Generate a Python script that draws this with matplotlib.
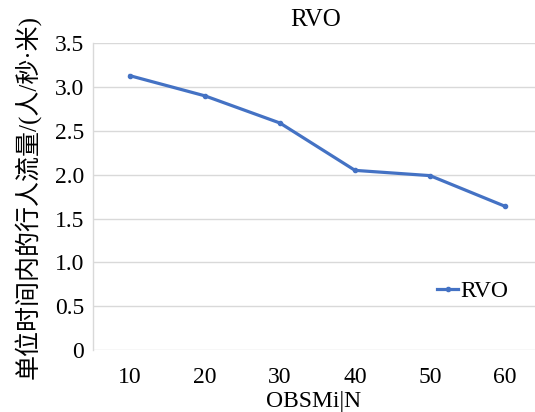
import matplotlib
matplotlib.use("Agg")
import matplotlib.pyplot as plt

# ---- data ----
categories = ["10", "20", "30", "40", "50", "60"]
rvo_values = [3.13, 2.90, 2.59, 2.05, 1.99, 1.64]
y_ticks = [0, 0.5, 1.0, 1.5, 2.0, 2.5, 3.0, 3.5]
y_tick_labels = ["0", "0.5", "1.0", "1.5", "2.0", "2.5", "3.0", "3.5"]

SERIF = ["Liberation Serif", "Noto Sans CJK SC", "DejaVu Sans"]
plt.rcParams["font.family"] = SERIF

BLUE = "#4472C4"
GRID = "#D9D9D9"

fig = plt.figure(figsize=(5.35, 4.12), dpi=100)
# plot area runs off the right edge, like the cropped original
ax = fig.add_axes([92.5 / 535, 1 - 350 / 412, 450 / 535, (350 - 43.3) / 412])

x = list(range(len(categories)))
ax.plot(x, rvo_values, color=BLUE, lw=2.3, marker="o", markersize=3,
        label="RVO", solid_joinstyle="round")

ax.set_xlim(-0.5, len(categories) - 0.5)
ax.set_ylim(0, 3.5)
ax.set_xticks(x)
ax.set_xticklabels(categories, fontsize=17)
ax.set_yticks(y_ticks)
ax.set_yticklabels(y_tick_labels, fontsize=17)
ax.tick_params(length=0)
ax.tick_params(axis="y", pad=6)
ax.tick_params(axis="x", pad=12)

ax.grid(axis="y", color=GRID, lw=1)
ax.set_axisbelow(True)
for s in ["top", "right", "bottom"]:
    ax.spines[s].set_visible(False)
ax.spines["left"].set_color(GRID)
ax.spines["left"].set_linewidth(1)

fig.text(316 / 535, 1 - 20 / 412, "RVO", ha="center", va="center", fontsize=18)
fig.text(314 / 535, 1 - 401 / 412, "OBSMi|N", ha="center", va="center", fontsize=17)
fig.text(27 / 535, 1 - 197 / 412, "单位时间内的行人流量/(人/秒·米)", rotation=90,
         ha="center", va="center", fontsize=18)

leg = ax.legend(loc="center left", bbox_to_anchor=(437 / 535, 1 - 291 / 412),
                bbox_transform=fig.transFigure, frameon=False, fontsize=17,
                handlelength=0.9, handletextpad=0.1, borderpad=0, borderaxespad=0)

fig.savefig("out.png", dpi=100)
